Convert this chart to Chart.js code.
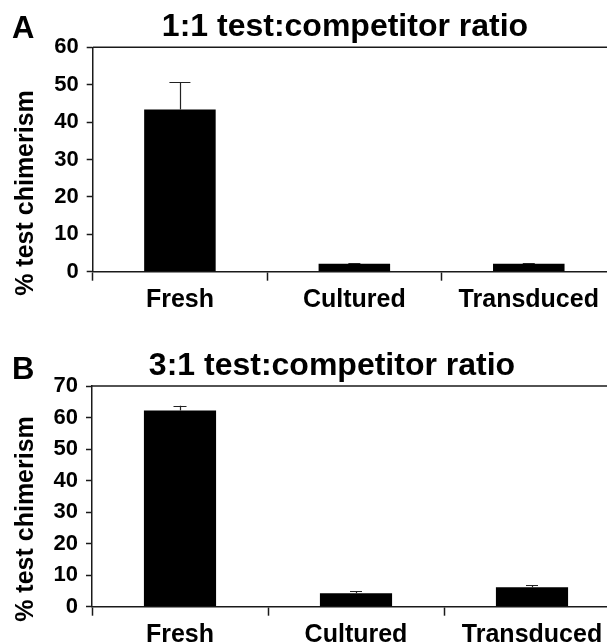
<!DOCTYPE html>
<html>
<head>
<meta charset="utf-8">
<script src="https://cdn.jsdelivr.net/npm/chart.js@4.4.1/dist/chart.umd.min.js"></script>
<style>
  html, body { margin: 0; padding: 0; background: #fff; overflow: hidden; }
  body { width: 607px; height: 644px; position: relative; }
  canvas { position: absolute; left: 0; }
  #chartA { top: 0; }
  #chartB { top: 320px; }
</style>
</head>
<body>
<canvas id="chartA" width="616" height="320"></canvas>
<canvas id="chartB" width="620" height="324"></canvas>
<script>
const categories = ["Fresh", "Cultured", "Transduced"];

// panel A: 1:1 ratio
const valuesA = [43.4, 2.1, 2.1];
const errorsA = [7.2, 0.1, 0.1];
const yMaxA = 60;

// panel B: 3:1 ratio
const valuesB = [62.2, 4.3, 6.2];
const errorsB = [1.5, 0.6, 0.6];
const yMaxB = 70;

const yStep = 10;
const FONT = "'Liberation Sans', Arial, sans-serif";
const AXIS = "#1a1a1a";

// draws panel letter, title, y title, top frame line and error bars
const panelDecor = {
  id: "panelDecor",
  afterDatasetsDraw: (chart, args, opts) => {
    const { ctx, chartArea } = chart;
    const y = chart.scales.y;
    const meta = chart.getDatasetMeta(0);

    ctx.save();
    // error bars (upper half only, like the original)
    ctx.strokeStyle = "#222";
    ctx.lineWidth = 1.2;
    opts.errors.forEach((err, i) => {
      const bar = meta.data[i];
      const v = chart.data.datasets[0].data[i];
      const yTop = y.getPixelForValue(v + err);
      const yVal = y.getPixelForValue(v);
      const cap = i === 0 ? opts.capFirst : opts.cap;
      ctx.beginPath();
      ctx.moveTo(Math.round(bar.x) + 0.5, yVal);
      ctx.lineTo(Math.round(bar.x) + 0.5, yTop);
      ctx.moveTo(bar.x - cap / 2, Math.round(yTop) + 0.5);
      ctx.lineTo(bar.x + cap / 2, Math.round(yTop) + 0.5);
      ctx.stroke();
    });

    // top frame line
    ctx.strokeStyle = AXIS;
    ctx.lineWidth = 1.5;
    ctx.beginPath();
    ctx.moveTo(chartArea.left, chartArea.top);
    ctx.lineTo(chart.width, chartArea.top);
    ctx.stroke();

    // panel letter + title
    ctx.fillStyle = "#000";
    ctx.textBaseline = "alphabetic";
    ctx.font = "bold 31px " + FONT;
    ctx.textAlign = "left";
    ctx.fillText(opts.letter, 12, opts.letterY);
    ctx.font = "bold 32px " + FONT;
    ctx.textAlign = "center";
    ctx.fillText(opts.title, opts.titleX, opts.titleY);

    // y axis title
    ctx.translate(33, opts.yTitleY);
    ctx.rotate(-Math.PI / 2);
    ctx.font = "bold 25px " + FONT;
    ctx.fillText("% test chimerism", 0, 0);
    ctx.restore();
  },
};

function makePanel(id, values, yMax, decor, layout) {
  return new Chart(document.getElementById(id), {
    type: "bar",
    data: {
      labels: categories,
      datasets: [
        {
          data: values,
          backgroundColor: "#000",
          borderWidth: 0,
          barPercentage: 0.41,
          categoryPercentage: 1,
        },
      ],
    },
    options: {
      responsive: false,
      animation: false,
      layout: { padding: { top: layout.top, right: 0, left: 0, bottom: 0 } },
      plugins: {
        legend: { display: false },
        tooltip: { enabled: false },
        panelDecor: decor,
      },
      scales: {
        x: {
          offset: true,
          grid: {
            offset: true,
            drawOnChartArea: false,
            drawTicks: true,
            tickLength: 9,
            tickWidth: 1.5,
            tickColor: AXIS,
          },
          border: { display: true, color: AXIS, width: 1.5 },
          ticks: {
            color: "#000",
            padding: 4,
            font: { family: FONT, size: 25, weight: "bold" },
          },
          afterFit: (scale) => {
            scale.height = layout.xHeight;
          },
        },
        y: {
          min: 0,
          max: yMax,
          grid: {
            drawOnChartArea: false,
            drawTicks: true,
            tickLength: 6,
            tickWidth: 1.5,
            tickColor: AXIS,
          },
          border: { display: true, color: AXIS, width: 1.5 },
          ticks: {
            stepSize: yStep,
            color: "#000",
            padding: 8,
            font: { family: FONT, size: 22, weight: "bold" },
          },
          afterFit: (scale) => {
            scale.width = layout.yWidth;
          },
        },
      },
    },
    plugins: [panelDecor],
  });
}

makePanel(
  "chartA",
  valuesA,
  yMaxA,
  { errors: errorsA, cap: 12, capFirst: 21, letter: "A", letterY: 38, title: "1:1 test:competitor ratio", titleX: 345, titleY: 36, yTitleY: 193 },
  { top: 47.3, xHeight: 48.3, yWidth: 92.7 }
);

makePanel(
  "chartB",
  valuesB,
  yMaxB,
  { errors: errorsB, cap: 12, capFirst: 13, letter: "B", letterY: 59, title: "3:1 test:competitor ratio", titleX: 332, titleY: 55, yTitleY: 199 },
  { top: 66, xHeight: 37.3, yWidth: 92 }
);
</script>
</body>
</html>
